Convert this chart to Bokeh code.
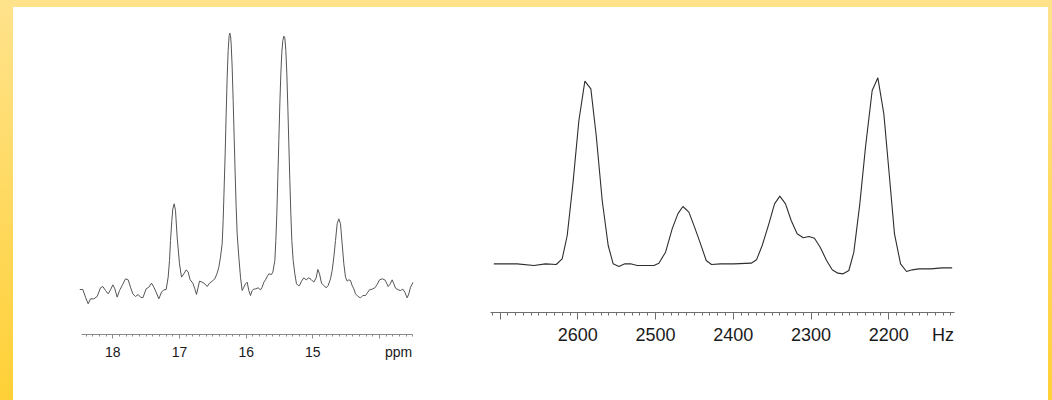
from bokeh.plotting import figure
from bokeh.layouts import row, column
from bokeh.models import Range1d, FixedTicker, LinearAxis, Spacer
from bokeh.embed import file_html
from bokeh.resources import INLINE

# --- 1H spectrum: chemical shift (ppm) and intensity (a.u.) ---
ppm_shift = [
    18.500, 18.450, 18.410, 18.370, 18.335, 18.285, 18.235, 18.185, 18.150, 18.110,
    18.070, 18.035, 18.000, 17.970, 17.935, 17.900, 17.860, 17.810, 17.770, 17.735,
    17.700, 17.660, 17.620, 17.585, 17.550, 17.500, 17.460, 17.420, 17.385, 17.350,
    17.310, 17.270, 17.235, 17.200, 17.170, 17.150, 17.135, 17.115, 17.100, 17.080,
    17.060, 17.035, 17.000, 16.970, 16.935, 16.900, 16.870, 16.840, 16.800, 16.770,
    16.745, 16.720, 16.700, 16.660, 16.620, 16.585, 16.550, 16.510, 16.470, 16.435,
    16.410, 16.385, 16.360, 16.345, 16.330, 16.315, 16.300, 16.285, 16.270, 16.255,
    16.245, 16.235, 16.225, 16.210, 16.195, 16.180, 16.165, 16.150, 16.135, 16.110,
    16.085, 16.060, 16.035, 16.010, 15.985, 15.960, 15.935, 15.910, 15.885, 15.860,
    15.820, 15.785, 15.760, 15.735, 15.710, 15.685, 15.660, 15.620, 15.600, 15.570,
    15.555, 15.540, 15.525, 15.510, 15.495, 15.480, 15.465, 15.450, 15.435, 15.420,
    15.405, 15.390, 15.375, 15.360, 15.345, 15.330, 15.315, 15.295, 15.270, 15.245,
    15.220, 15.200, 15.170, 15.135, 15.100, 15.060, 15.020, 14.985, 14.950, 14.925,
    14.900, 14.870, 14.835, 14.800, 14.770, 14.735, 14.710, 14.685, 14.660, 14.635,
    14.610, 14.585, 14.560, 14.535, 14.510, 14.485, 14.460, 14.435, 14.410, 14.385,
    14.360, 14.320, 14.285, 14.250, 14.210, 14.185, 14.150, 14.110, 14.070, 14.035,
    14.000, 13.960, 13.920, 13.900, 13.870, 13.845, 13.810, 13.785, 13.760, 13.720,
    13.685, 13.650, 13.620, 13.585, 13.560, 13.535, 13.495,
]
ppm_intensity = [
    43, 43, 20, 0, 15, 15, 22, 48, 52, 40,
    30, 42, 57, 45, 20, 40, 55, 75, 72, 50,
    30, 22, 28, 20, 18, 45, 50, 62, 50, 35,
    15, 35, 42, 43, 80, 130, 190, 250, 285, 300,
    280, 200, 120, 80, 90, 102, 95, 72, 62, 45,
    28, 50, 68, 65, 60, 52, 62, 68, 75, 92,
    110, 140, 180, 250, 350, 450, 570, 680, 760, 805,
    812, 805, 780, 710, 610, 500, 390, 290, 210, 140,
    80, 40, 50, 60, 65, 40, 25, 40, 44, 45,
    48, 42, 50, 65, 72, 82, 90, 88, 95, 130,
    190, 270, 380, 490, 600, 690, 755, 790, 803, 798,
    760, 690, 590, 480, 370, 270, 190, 130, 90, 60,
    55, 55, 68, 78, 72, 78, 72, 65, 78, 103,
    90, 62, 55, 48, 55, 75, 100, 140, 190, 240,
    255, 240, 180, 120, 80, 68, 72, 70, 55, 45,
    30, 22, 18, 25, 25, 32, 42, 44, 48, 58,
    72, 75, 72, 65, 52, 58, 72, 60, 47, 42,
    40, 44, 35, 18, 30, 50, 65,
]
ppm_major = [18, 17, 16, 15, 14]
ppm_labelled = [18, 17, 16, 15]

# --- frequency-domain spectrum: frequency (Hz) and intensity (a.u.) ---
hz_freq = [
    2708.0, 2678.0, 2656.5, 2641.5, 2627.8, 2620.1, 2613.6, 2606.3, 2598.6, 2590.9,
    2583.2, 2576.3, 2568.6, 2560.9, 2554.5, 2547.2, 2539.4, 2532.2, 2523.6, 2512.9,
    2502.1, 2495.7, 2487.1, 2478.6, 2471.3, 2464.8, 2457.1, 2449.8, 2442.1, 2434.8,
    2428.0, 2416.4, 2399.2, 2376.9, 2370.1, 2362.8, 2354.2, 2346.9, 2340.1, 2332.8,
    2325.5, 2317.8, 2310.0, 2302.8, 2295.5, 2287.8, 2280.0, 2272.7, 2265.5, 2258.6,
    2251.3, 2244.9, 2237.2, 2229.9, 2221.3, 2214.0, 2206.3, 2199.8, 2192.6, 2184.8,
    2177.1, 2169.8, 2161.2, 2146.2, 2131.2, 2118.4,
]
hz_intensity = [
    5, 5, 0, 5, 3, 20, 90, 245, 435, 553,
    530, 390, 195, 60, 5, -3, 5, 5, 0, 0,
    0, 7, 40, 110, 155, 177, 160, 115, 65, 15,
    3, 5, 5, 7, 17, 60, 125, 185, 208, 185,
    135, 95, 83, 87, 82, 53, 15, -13, -23, -25,
    -15, 40, 185, 355, 525, 563, 455, 285, 95, 5,
    -18, -13, -10, -10, -7, -7,
]
hz_major = [2700, 2600, 2500, 2400, 2300, 2200]
hz_labelled = [2600, 2500, 2400, 2300, 2200]

FONT = "Liberation Sans"


def bare_figure(**kw):
    p = figure(output_backend="svg", toolbar_location=None, y_axis_location=None,
               outline_line_color=None, background_fill_color="white",
               border_fill_color="white", min_border_top=18, min_border_bottom=66,
               **kw)
    p.xgrid.visible = False
    p.ygrid.visible = False
    return p


def tick_axis(ax, ticks, minor, bounds, color, tick_out, minor_out):
    """Axis line with major/minor tick marks only."""
    ax.ticker = FixedTicker(ticks=ticks, minor_ticks=minor)
    ax.bounds = bounds
    ax.axis_line_color = color
    ax.major_tick_line_color = color
    ax.minor_tick_line_color = color
    ax.major_tick_in = 0
    ax.minor_tick_in = 0
    ax.major_tick_out = tick_out
    ax.minor_tick_out = minor_out
    ax.major_label_standoff = 0
    ax.major_label_text_font_size = "0px"
    ax.major_label_overrides = {t: "" for t in ticks}


def label_axis(p, ticks, unit_pos, unit, size, standoff):
    """Tick numbers plus the unit, placed just under the tick marks."""
    ax = LinearAxis(ticker=FixedTicker(ticks=ticks + [unit_pos], minor_ticks=[]))
    ax.axis_line_color = None
    ax.major_tick_line_color = None
    ax.minor_tick_line_color = None
    ax.major_tick_in = 0
    ax.major_tick_out = 0
    ax.minor_tick_in = 0
    ax.minor_tick_out = 0
    ax.major_label_overrides = {unit_pos: unit}
    ax.major_label_text_font = FONT
    ax.major_label_text_font_size = size
    ax.major_label_text_color = "#1a1a1a"
    ax.major_label_standoff = standoff
    p.add_layout(ax, "below")


# left panel: ppm scale
left = bare_figure(frame_width=334, frame_height=309,
                   min_border_left=66, min_border_right=27,
                   x_range=Range1d(18.5, 13.49), y_range=Range1d(-92, 835))
left.line(ppm_shift, ppm_intensity, line_color="#555555", line_width=1)
tick_axis(left.xaxis[0], ppm_major,
          [round(13.5 + 0.1 * i, 1) for i in range(50)], (13.5, 18.47),
          "#8a8a8a", 4, 2)
label_axis(left, ppm_labelled, 13.715, "ppm", "14px", 5)

# right panel: Hz scale
right = bare_figure(frame_width=464, frame_height=287,
                    min_border_left=50, min_border_right=94,
                    x_range=Range1d(2712.3, 2115.4), y_range=Range1d(-141, 720))
right.line(hz_freq, hz_intensity, line_color="#2e2e2e", line_width=1.1)
tick_axis(right.xaxis[0], hz_major, [2120 + 10 * i for i in range(60)],
          (2116, 2712), "#6e6e6e", 7, 3)
label_axis(right, hz_labelled, 2130.2, "Hz", "18px", 5)

panels = row(left, right, styles={"background": "white"})

page = column(
    Spacer(width=1052, height=7),
    row(Spacer(width=13, height=393), panels, Spacer(width=4, height=393)),
    styles={"background": "linear-gradient(to bottom, #FFE38C, #FFD036)"},
)

open("out.html", "w").write(file_html(page, INLINE))
